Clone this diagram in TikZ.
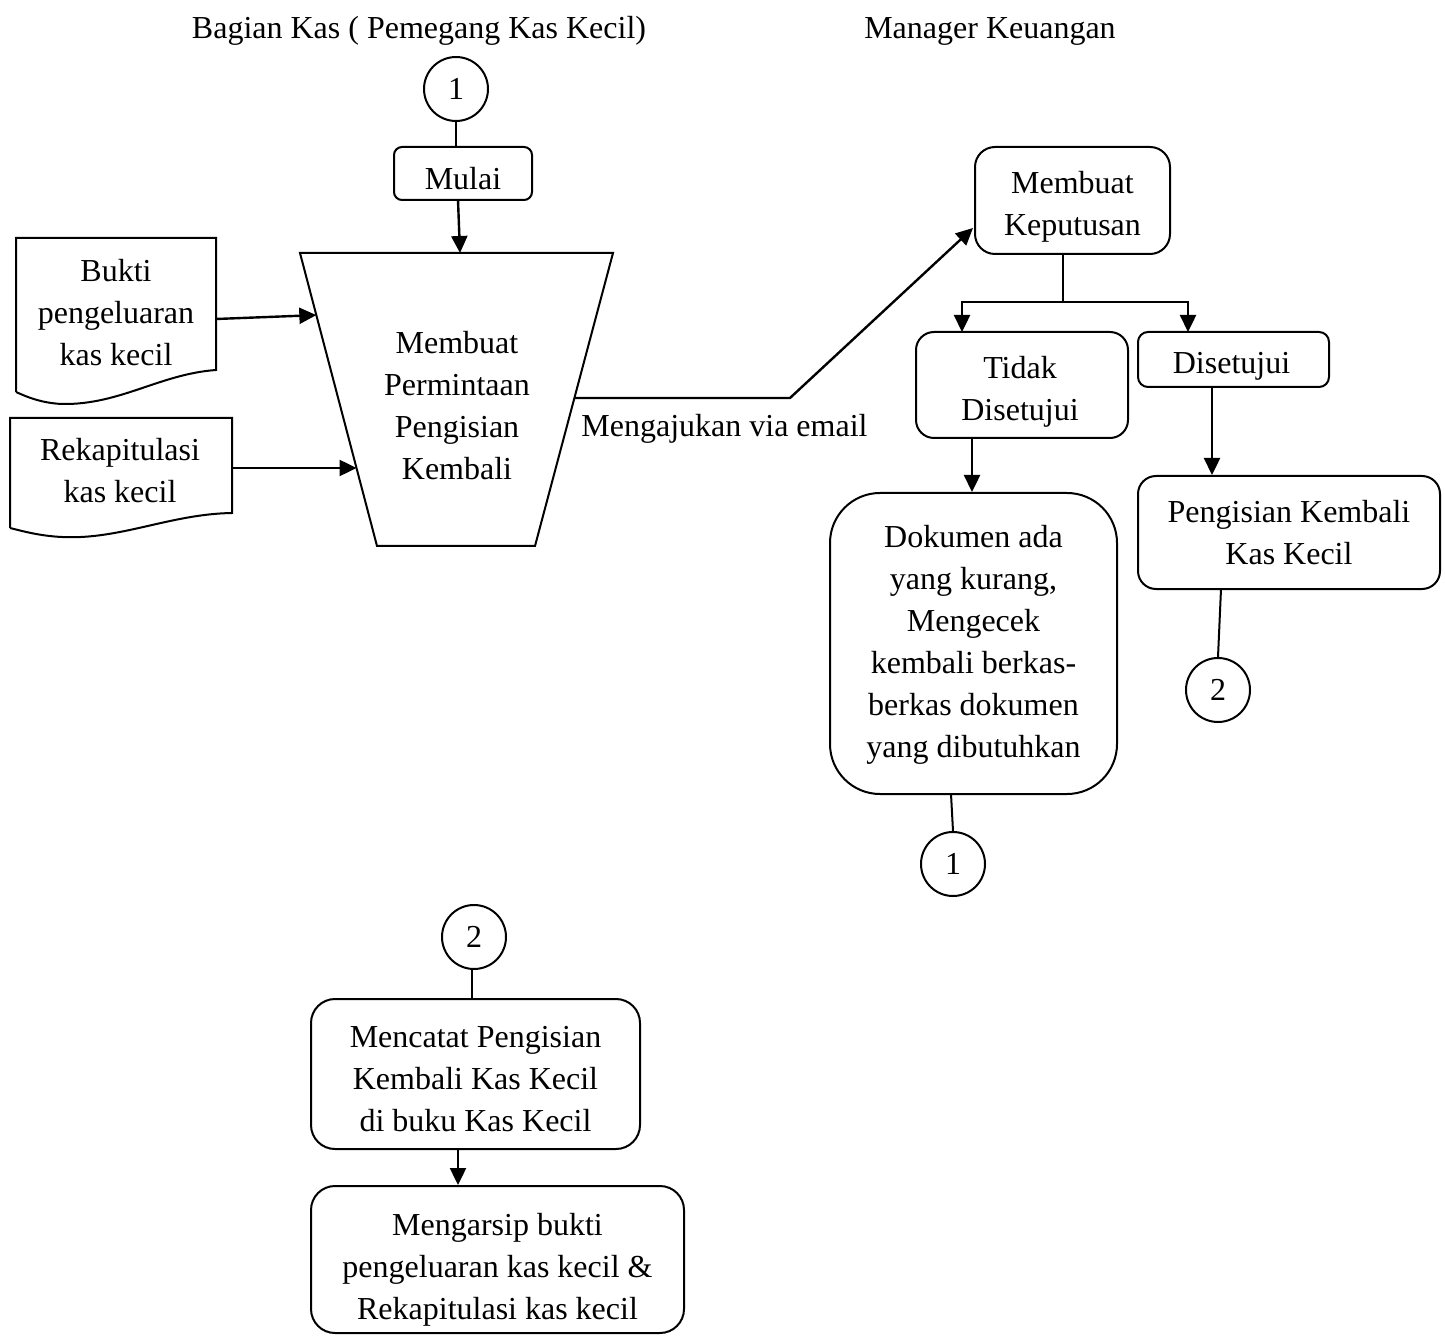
\documentclass[tikz,border=0pt]{standalone}
\usepackage{fontspec}
\setmainfont{Liberation Serif}
\usetikzlibrary{arrows.meta,calc}
\begin{document}
\begin{tikzpicture}[x=0.5pt,y=-0.5pt,
  every node/.style={font=\fontsize{16}{21}\selectfont},
  ln/.style={line width=1pt},
  arr/.style={line width=1.2pt,-{Triangle[length=8.5pt,width=8pt]}},
  box/.style={draw,line width=1pt,inner sep=0pt},
  conn/.style={draw,circle,line width=1pt,minimum size=32pt,inner sep=0pt},
  txt/.style={align=center,inner sep=0pt}]
\useasboundingbox (0,0) rectangle (1445,1336);

% headers
\node[anchor=base] (h1) at (419,39) {Bagian Kas ( Pemegang Kas Kecil)};
\node[anchor=base] (h2) at (990,39) {Manager Keuangan};

% left lane
\node[conn] (c1a) at (456,89) {1};
\node[box,rounded corners=4pt,minimum width=69pt,minimum height=26.5pt] (mulai) at (463,173.5) {};
\node[txt] (mulaiT) at ([yshift=-2.5pt]mulai.center) {Mulai};

% trapezoid (manual operation)
\coordinate (tTL) at (300,253);
\coordinate (tTR) at (613,253);
\coordinate (tBR) at (535,546);
\coordinate (tBL) at (377,546);
\draw[ln] (tTL) -- (tTR) -- (tBR) -- (tBL) -- cycle;
\node[txt] (proc) at (457,406) {Membuat\\Permintaan\\Pengisian\\Kembali};

% documents
\draw[ln] (16,392) -- (16,238) -- (216,238) -- (216,370)
  .. controls (160,374) and (120,405) .. (62,404)
  .. controls (40,403) and (25,396) .. (16,392);
\node[txt] (bukti) at (116,313) {Bukti\\pengeluaran\\kas kecil};
\draw[ln] (10,528) -- (10,418) -- (232,418) -- (232,513)
  .. controls (170,514) and (120,540) .. (62,537)
  .. controls (40,536) and (22,531) .. (10,528);
\node[txt] (rekap) at (120,471) {Rekapitulasi\\kas kecil};

\coordinate (buktiE) at (216,319);
\coordinate (rekapE) at (232,468);
\coordinate (trapB) at ($(tTL)!0.212!(tBL)$);
\coordinate (trapR) at ($(tTL)!0.734!(tBL)$);
\coordinate (trapO) at ($(tTR)!0.495!(tBR)$);
\coordinate (trapTop) at (460,253);
\coordinate (mulaiOut) at (458,200);

\draw[ln] (c1a.south) -- (c1a.south |- mulai.north);
\draw[arr] (mulaiOut) -- (trapTop);
\draw[arr] (buktiE) -- (trapB);
\draw[arr] (rekapE) -- (rekapE -| trapR);

% right lane
\node[box,rounded corners=10pt,minimum width=97.5pt,minimum height=53.5pt] (kep) at (1072.5,200.5) {};
\node[txt] (kepT) at ([yshift=-3pt]kep.center) {Membuat\\Keputusan};
\node[box,rounded corners=9pt,minimum width=106pt,minimum height=53pt] (tidak) at (1022,385) {};
\node[txt] (tidakT) at ([yshift=-3.5pt,xshift=-1pt]tidak.center) {Tidak\\Disetujui};
\node[box,rounded corners=5pt,minimum width=95.5pt,minimum height=27.5pt] (setuju) at (1233.5,359.5) {};
\node[txt] (setujuT) at ([yshift=-3.5pt,xshift=-1pt]setuju.center) {Disetujui};
\node[box,rounded corners=25pt,minimum width=143.5pt,minimum height=150.5pt] (dok) at (973.5,643.5) {};
\node[txt] (dokT) at ([yshift=-0.5pt]dok.center) {Dokumen ada\\yang kurang,\\Mengecek\\kembali berkas-\\berkas dokumen\\yang dibutuhkan};
\node[box,rounded corners=9pt,minimum width=151pt,minimum height=56.5pt] (peng) at (1289,532.5) {};
\node[txt] (pengT) at (peng.center) {Pengisian Kembali\\Kas Kecil};
\node[conn] (c1b) at (953,864) {1};
\node[conn] (c2a) at (1218,690) {2};

% email connector
\coordinate (bend) at (790,398);
\coordinate (kepIn) at (973,228);
\draw[arr] (trapO) -- (bend) -- (kepIn);
\node[anchor=base west,inner sep=0pt] (email) at (581,437) {Mengajukan via email};

% decision split
\coordinate (split) at (1063,302);
\coordinate (tIn) at (962,332);
\coordinate (sIn) at (1188,332);
\draw[ln] (split |- kep.south) -- (split);
\draw[arr] (split) -| (tIn);
\draw[arr] (split) -| (sIn);

\coordinate (tOut) at (972,438);
\draw[arr] (tOut) -- (tOut |- dok.north);
\coordinate (sOut) at (1212,387);
\draw[arr] (sOut) -- (sOut |- peng.north);

\coordinate (dOut) at (951,794);
\draw[ln] (dOut) -- (c1b.north);
\coordinate (pOut) at (1221,589);
\draw[ln] (pOut) -- (c2a.north);

% bottom
\node[conn] (c2b) at (474,937) {2};
\node[box,rounded corners=12pt,minimum width=164.5pt,minimum height=75pt] (catat) at (475.5,1074) {};
\node[txt] (catatT) at ([yshift=-2.5pt]catat.center) {Mencatat Pengisian\\Kembali Kas Kecil\\di buku Kas Kecil};
\node[box,rounded corners=12pt,minimum width=186.5pt,minimum height=73.5pt] (arsip) at (497.5,1259.5) {};
\node[txt] (arsipT) at ([yshift=-5pt]arsip.center) {Mengarsip bukti\\pengeluaran kas kecil \&\\Rekapitulasi kas kecil};

\coordinate (c2out) at (472,969);
\draw[ln] (c2out) -- (c2out |- catat.north);
\coordinate (catOut) at (458,1149);
\draw[arr] (catOut) -- (catOut |- arsip.north);
\end{tikzpicture}
\end{document}
